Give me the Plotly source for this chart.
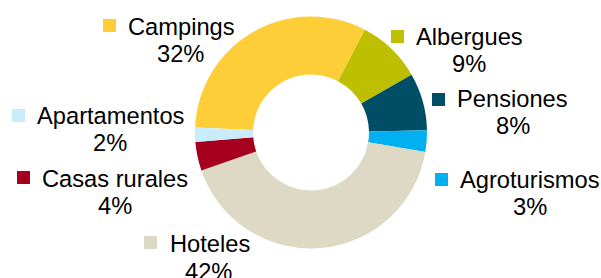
import plotly.graph_objects as go

categories = ["Campings", "Albergues", "Pensiones", "Agroturismos", "Hoteles", "Casas rurales", "Apartamentos"]
values = [32, 9, 8, 3, 42, 4, 2]
pct_labels = ["32%", "9%", "8%", "3%", "42%", "4%", "2%"]
colors = ["#FDCE38", "#BDBF00", "#004D66", "#00B0F0", "#DDD9C4", "#A6001F", "#C8ECFA"]

W, H = 601, 278
# label layout (window pixel positions): name centre x, name baseline y, pct baseline y, square left x, square top y
label_cx = [181.5, 469, 512.5, 530, 209.5, 115, 110.5]
name_base = [35, 45, 107, 188, 252, 187, 124]
pct_cx = [180.5, 468.5, 512.5, 530, 208.5, 115, 110]
pct_base = [62, 72, 134, 215, 280, 214, 151]
sq_x = [103, 391, 432, 435, 144, 17, 12]
sq_y = [19, 30, 93, 173, 236, 171, 109]
SQ = 13
FS = 23.7
CX, CY, R = 311, 132.5, 116


def px(x):
    return x / W


def py(y):
    return 1 - y / H


fig = go.Figure()
fig.add_trace(go.Pie(
    labels=categories, values=values, sort=False, direction="clockwise",
    rotation=-87.5, hole=0.5, textinfo="none", hoverinfo="label+percent",
    marker=dict(colors=colors, line=dict(width=0)),
    domain=dict(x=[px(CX - R), px(CX + R)], y=[py(CY + R), py(CY - R)]),
    showlegend=False,
))

off = 0.3465 * FS
annotations = []
shapes = []
for i, cat in enumerate(categories):
    annotations.append(dict(x=px(label_cx[i]), y=py(name_base[i] - off), xref="paper", yref="paper",
                            text=cat, showarrow=False, xanchor="center", yanchor="middle",
                            font=dict(size=FS, color="#000000", family="Liberation Sans, Arial, sans-serif")))
    annotations.append(dict(x=px(pct_cx[i]), y=py(pct_base[i] - off), xref="paper", yref="paper",
                            text=pct_labels[i], showarrow=False, xanchor="center", yanchor="middle",
                            font=dict(size=FS, color="#000000", family="Liberation Sans, Arial, sans-serif")))
    shapes.append(dict(type="rect", xref="paper", yref="paper",
                       x0=px(sq_x[i]), x1=px(sq_x[i] + SQ), y0=py(sq_y[i] + SQ), y1=py(sq_y[i]),
                       fillcolor=colors[i], line=dict(width=0)))

fig.update_layout(width=W, height=H, margin=dict(l=0, r=0, t=0, b=0),
                  paper_bgcolor="#FFFFFF", plot_bgcolor="#FFFFFF",
                  annotations=annotations, shapes=shapes)
fig.write_html("out.html", config={"displayModeBar": False},
               post_script="document.body.style.margin='0';document.body.style.overflow='hidden';")
